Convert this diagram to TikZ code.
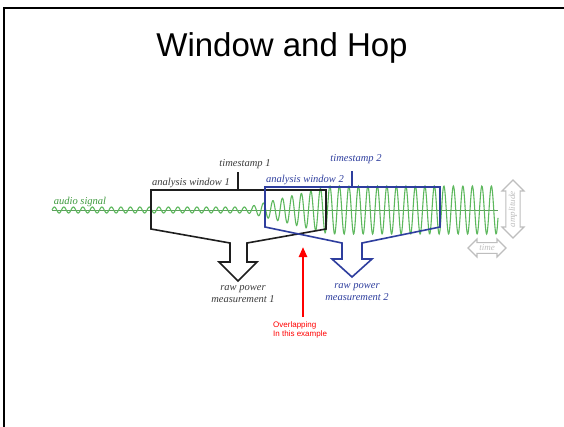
\documentclass[tikz,border=0pt]{standalone}
\usepackage{fontspec}
\setmainfont{Liberation Serif}
\newfontfamily\arial{Liberation Sans}
\usetikzlibrary{arrows.meta,shapes.arrows}
\definecolor{winblack}{HTML}{1E1E1E}
\definecolor{winblue}{HTML}{2E3E9E}
\definecolor{labgray}{HTML}{3C3C3C}
\definecolor{wavegreen}{HTML}{5DB85D}
\definecolor{axisgreen}{HTML}{5E9E5E}
\definecolor{siggreen}{HTML}{3E9A3E}
\definecolor{hintgray}{HTML}{BEBEBE}
\tikzset{
  lbl/.style={font=\fontsize{10.5}{12}\selectfont\itshape, inner sep=0pt},
  winedge/.style={line width=1.6pt, line join=miter},
  tick/.style={line width=1.2pt},
  hint/.style={draw=hintgray, line width=1.1pt, fill=white, text=hintgray,
    font=\fontsize{9}{10}\selectfont\itshape, inner sep=1pt},
}
\begin{document}
\begin{tikzpicture}[x=1pt,y=-1pt]
\useasboundingbox (0,0) rectangle (564,426);
\fill[white] (0,0) rectangle (564,426);

% slide frame
\draw[line width=2.5pt] (4,428) -- (4,8) -- (566,8);

% title
\node[font=\arial\fontsize{33}{38}\selectfont] (title) at (282,48) {Window and Hop};

% audio signal: axis and wave with growing envelope
\draw[axisgreen, line width=0.7pt] (52,210) -- (498,210);
\draw[wavegreen, line width=1.1pt]
  plot[domain=52:498, samples=1100]
  (\x, {210 - (3 + 21*min(1,max(0,(\x-248)/82)))*sin(mod(\x-52,9.5)*37.8947)});
\node[lbl, text=siggreen] (sig) at (80,202) {audio signal};

% analysis window 1 (black) funnelling into its measurement arrow
\draw[winblack, winedge] (151,190) -- (326,190) -- (326,229) -- (247,243)
  -- (247,262) -- (257,262) -- (238,281) -- (219,262) -- (230,262)
  -- (230,243) -- (151,229) -- cycle;
% analysis window 2 (blue)
\draw[winblue, winedge] (265,187) -- (440,187) -- (440,227) -- (362,243)
  -- (362,259) -- (372,259) -- (352,277) -- (332,259) -- (342,259)
  -- (342,243) -- (265,227) -- cycle;

% window labels and timestamps
\node[lbl, text=labgray] (aw1) at (191,183) {analysis window 1};
\draw[winblack, tick] (238,172) -- (238,189);
\node[lbl, text=labgray] (ts1) at (245,164) {timestamp 1};
\node[lbl, text=winblue] (aw2) at (305,180) {analysis window 2};
\draw[winblue, tick] (352,171) -- (352,186);
\node[lbl, text=winblue] (ts2) at (356,159) {timestamp 2};

% measurement outputs
\node[lbl, text=labgray, align=center] (m1) at (243,294)
  {raw power\\measurement 1};
\node[lbl, text=winblue, align=center] (m2) at (357,292)
  {raw power\\measurement 2};

% axis hints
\node[hint, shape=double arrow, rotate=90, minimum height=58pt,
  minimum width=22pt, double arrow head extend=3pt] (amp) at (513,209) {amplitude};
\node[hint, shape=double arrow, minimum height=38pt, minimum width=18pt,
  double arrow head extend=3pt] (time) at (487,248) {time};

% overlap note
\coordinate (ov) at (303,247);
\node[font=\arial\fontsize{8}{9.5}\selectfont, text=red, align=left,
  anchor=north west, inner sep=0pt] (note) at (273,321)
  {Overlapping\\In this example};
\draw[red, line width=2.4pt, -{Triangle[width=8pt,length=10pt]}]
  (303,317) -- (ov);
\end{tikzpicture}
\end{document}
